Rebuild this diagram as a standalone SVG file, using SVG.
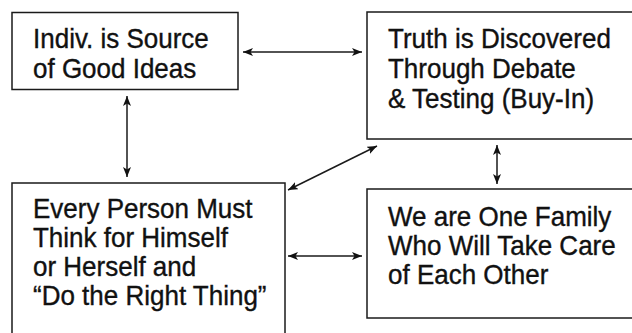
<svg xmlns="http://www.w3.org/2000/svg" width="632" height="333" viewBox="0 0 632 333">
<defs>
<style>
.box{fill:none;stroke:#1a1a1a;stroke-width:1.5}
.t{font-family:"Liberation Sans",Arial,Helvetica,sans-serif;font-size:26px;fill:#111;stroke:#111;stroke-width:0.35}
.c{fill:none;stroke:#1a1a1a;stroke-width:1.5}
</style>
<marker id="ah" viewBox="0 0 10 8" refX="10" refY="4" markerWidth="10" markerHeight="8" markerUnits="userSpaceOnUse" orient="auto-start-reverse">
<path d="M0,0 L10,4 L0,8 L2.5,4 Z" fill="#111"/>
</marker>
</defs>
<rect width="632" height="333" fill="#fff"/>
<g id="n1">
<rect class="box" x="12" y="12.5" width="226" height="77"/>
<text class="t" transform="matrix(1 0 0 1.08 33 48)">Indiv. is Source</text>
<text class="t" transform="matrix(1 0 0 1.08 33 78)">of Good Ideas</text>
</g>
<g id="n2">
<rect class="box" x="367" y="12" width="280" height="127"/>
<text class="t" transform="matrix(1 0 0 1.08 388 48)">Truth is Discovered</text>
<text class="t" transform="matrix(1 0 0 1.08 388 78)">Through Debate</text>
<text class="t" transform="matrix(1 0 0 1.08 388 108)">&amp; Testing (Buy-In)</text>
</g>
<g id="n3">
<rect class="box" x="12" y="183" width="273" height="160"/>
<text class="t" transform="matrix(1 0 0 1.08 33 218)">Every Person Must</text>
<text class="t" transform="matrix(1 0 0 1.08 33 247)">Think for Himself</text>
<text class="t" transform="matrix(1 0 0 1.08 33 276)">or Herself and</text>
<text class="t" transform="matrix(1 0 0 1.08 33 305)">“Do the Right Thing”</text>
</g>
<g id="n4">
<rect class="box" x="367" y="189" width="280" height="129"/>
<text class="t" transform="matrix(1 0 0 1.08 388 226)">We are One Family</text>
<text class="t" transform="matrix(1 0 0 1.08 388 255)">Who Will Take Care</text>
<text class="t" transform="matrix(1 0 0 1.08 388 284)">of Each Other</text>
</g>
<g id="connectors">
<line class="c" x1="243" y1="52" x2="362" y2="52" marker-start="url(#ah)" marker-end="url(#ah)"/>
<line class="c" x1="127" y1="96" x2="127" y2="177" marker-start="url(#ah)" marker-end="url(#ah)"/>
<line class="c" x1="288" y1="190" x2="377" y2="146" marker-start="url(#ah)" marker-end="url(#ah)"/>
<line class="c" x1="497" y1="145" x2="497" y2="184" marker-start="url(#ah)" marker-end="url(#ah)"/>
<line class="c" x1="288" y1="256" x2="362" y2="256" marker-start="url(#ah)" marker-end="url(#ah)"/>
</g>
</svg>
